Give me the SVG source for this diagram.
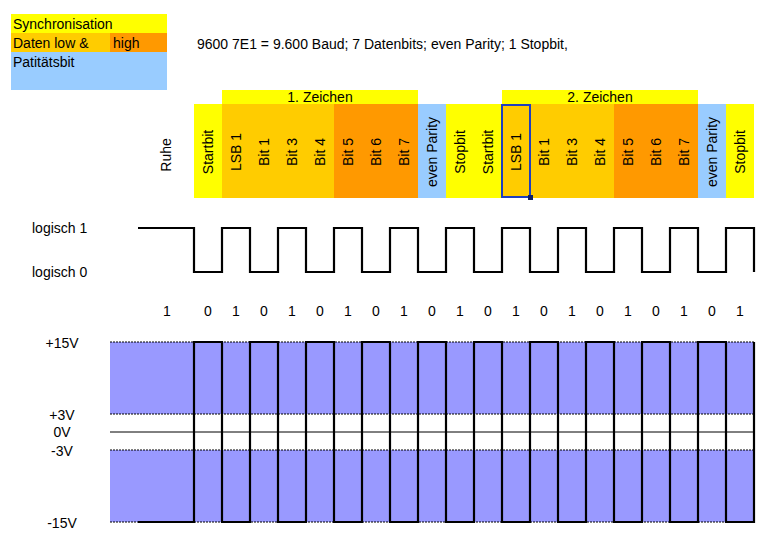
<svg xmlns="http://www.w3.org/2000/svg" width="771" height="540" viewBox="0 0 771 540">
<style>
text{font-family:"Liberation Sans",Arial,sans-serif;font-size:14px;fill:#000}
.c{text-anchor:middle;dominant-baseline:central}
.l{dominant-baseline:central}
.y{fill:#ffff00}.o1{fill:#ffcc00}.o2{fill:#ff9900}.lb{fill:#99ccff}
.dot{stroke:#000;stroke-width:1;stroke-dasharray:2 1;fill:none}
.wave{stroke:#000;stroke-width:2.2;fill:none}
</style>
<rect width="771" height="540" fill="#fff"/>
<g id="legend">
<rect x="11" y="14" width="156" height="19" class="y"/>
<rect x="11" y="33" width="99" height="19" class="o1"/>
<rect x="110" y="33" width="57" height="19" class="o2"/>
<rect x="11" y="52" width="156" height="38" class="lb"/>
<text x="13" y="23.5" class="l">Synchronisation</text>
<text x="13" y="43" class="l">Daten low &amp;</text>
<text x="113" y="43" class="l">high</text>
<text x="13" y="61.5" class="l">Patitätsbit</text>
</g>
<g id="title"><text x="197" y="44" class="l">9600 7E1 = 9.600 Baud; 7 Datenbits; even Parity; 1 Stopbit,</text></g>
<g id="zeichen1"><rect x="222" y="90" width="196" height="14" class="y"/><text x="320" y="97" class="c">1. Zeichen</text></g>
<g id="zeichen2"><rect x="502" y="90" width="196" height="14" class="y"/><text x="600" y="97" class="c">2. Zeichen</text></g>
<g id="ruhe"><text transform="translate(166,155) rotate(-90)" class="c">Ruhe</text></g>
<g id="columns">
<rect x="194" y="104" width="28" height="94" class="y"/>
<rect x="222" y="104" width="112" height="94" class="o1"/>
<rect x="334" y="104" width="84" height="94" class="o2"/>
<rect x="418" y="104" width="28" height="94" class="lb"/>
<rect x="446" y="104" width="56" height="94" class="y"/>
<rect x="502" y="104" width="112" height="94" class="o1"/>
<rect x="614" y="104" width="84" height="94" class="o2"/>
<rect x="698" y="104" width="28" height="94" class="lb"/>
<rect x="726" y="104" width="28" height="94" class="y"/>
<text transform="translate(208,152) rotate(-90)" class="c">Startbit</text>
<text transform="translate(236,152) rotate(-90)" class="c">LSB 1</text>
<text transform="translate(264,152) rotate(-90)" class="c">Bit 1</text>
<text transform="translate(292,152) rotate(-90)" class="c">Bit 3</text>
<text transform="translate(320,152) rotate(-90)" class="c">Bit 4</text>
<text transform="translate(348,152) rotate(-90)" class="c">Bit 5</text>
<text transform="translate(376,152) rotate(-90)" class="c">Bit 6</text>
<text transform="translate(404,152) rotate(-90)" class="c">Bit 7</text>
<text transform="translate(432,152) rotate(-90)" class="c">even Parity</text>
<text transform="translate(460,152) rotate(-90)" class="c">Stopbit</text>
<text transform="translate(488,152) rotate(-90)" class="c">Startbit</text>
<text transform="translate(516,152) rotate(-90)" class="c">LSB 1</text>
<text transform="translate(544,152) rotate(-90)" class="c">Bit 1</text>
<text transform="translate(572,152) rotate(-90)" class="c">Bit 3</text>
<text transform="translate(600,152) rotate(-90)" class="c">Bit 4</text>
<text transform="translate(628,152) rotate(-90)" class="c">Bit 5</text>
<text transform="translate(656,152) rotate(-90)" class="c">Bit 6</text>
<text transform="translate(684,152) rotate(-90)" class="c">Bit 7</text>
<text transform="translate(712,152) rotate(-90)" class="c">even Parity</text>
<text transform="translate(740,152) rotate(-90)" class="c">Stopbit</text>
</g>
<g id="selection">
<rect x="502" y="105" width="28" height="92" fill="none" stroke="#1f3fbf" stroke-width="2"/>
<rect x="528" y="195" width="5" height="5" fill="#102060"/>
</g>
<g id="logic">
<text x="32" y="228" class="l">logisch 1</text>
<text x="32" y="272" class="l">logisch 0</text>
</g>
<g id="bits">
<text x="167" y="311" class="c">1</text>
<text x="208" y="311" class="c">0</text>
<text x="236" y="311" class="c">1</text>
<text x="264" y="311" class="c">0</text>
<text x="292" y="311" class="c">1</text>
<text x="320" y="311" class="c">0</text>
<text x="348" y="311" class="c">1</text>
<text x="376" y="311" class="c">0</text>
<text x="404" y="311" class="c">1</text>
<text x="432" y="311" class="c">0</text>
<text x="460" y="311" class="c">1</text>
<text x="488" y="311" class="c">0</text>
<text x="516" y="311" class="c">1</text>
<text x="544" y="311" class="c">0</text>
<text x="572" y="311" class="c">1</text>
<text x="600" y="311" class="c">0</text>
<text x="628" y="311" class="c">1</text>
<text x="656" y="311" class="c">0</text>
<text x="684" y="311" class="c">1</text>
<text x="712" y="311" class="c">0</text>
<text x="740" y="311" class="c">1</text>
</g>
<g id="voltage">
<rect x="110" y="342" width="644" height="72" fill="#9999ff"/>
<rect x="110" y="450" width="644" height="72" fill="#9999ff"/>
<line x1="110" y1="342" x2="754" y2="342" class="dot"/>
<line x1="110" y1="414" x2="754" y2="414" class="dot"/>
<line x1="110" y1="450" x2="754" y2="450" class="dot"/>
<line x1="110" y1="522" x2="754" y2="522" class="dot"/>
<line x1="110" y1="432" x2="754" y2="432" stroke="#000" stroke-width="1"/>
<text x="62" y="343" class="c">+15V</text>
<text x="62" y="415" class="c">+3V</text>
<text x="62" y="432" class="c">0V</text>
<text x="62" y="451" class="c">-3V</text>
<text x="62" y="523" class="c">-15V</text>
</g>
<g id="connectors">
<path class="wave" d="M138 228H194V272H222V228H250V272H278V228H306V272H334V228H362V272H390V228H418V272H446V228H474V272H502V228H530V272H558V228H586V272H614V228H642V272H670V228H698V272H726V228H754V272"/>
<path class="wave" d="M138 522H194V342H222V522H250V342H278V522H306V342H334V522H362V342H390V522H418V342H446V522H474V342H502V522H530V342H558V522H586V342H614V522H642V342H670V522H698V342H726V522H754V342"/>
</g>
</svg>
